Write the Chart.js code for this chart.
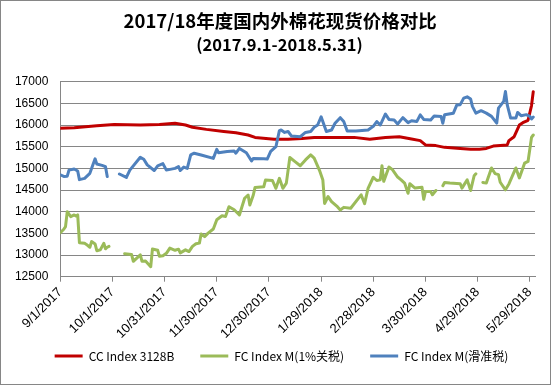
<!DOCTYPE html>
<html><head><meta charset="utf-8">
<script src="https://cdn.jsdelivr.net/npm/chart.js@4/dist/chart.umd.min.js"></script>
<style>html,body{margin:0;padding:0;background:#fff}canvas{display:block}</style>
</head><body>
<canvas id="c" width="555" height="386"></canvas>
<script>
const titleText = '2017/18年度国内外棉花现货价格对比';
const subtitleText = '(2017.9.1-2018.5.31)';
const seriesNames = ['CC Index 3128B', 'FC Index M(1%关税)', 'FC Index M(滑准税)'];

// x values are days since 9/1/2017
const xTickDays = [0, 30, 60, 90, 120, 150, 180, 210, 240, 270];
const xTickLabels = ['9/1/2017', '10/1/2017', '10/31/2017', '11/30/2017', '12/30/2017',
  '1/29/2018', '2/28/2018', '3/30/2018', '4/29/2018', '5/29/2018'];

const redDays = [0,8,21,31,46,57,66,72,76,84,94,101,108,112,123,131,139,146,161,169,178,187,195,202,207,210,216,221,230,236,241,245,249,253,257,258,261,264,266,269,271,272];
const redValues = [15925,15940,15985,16015,16000,16010,16040,16000,15950,15900,15850,15820,15770,15715,15670,15670,15690,15715,15715,15715,15670,15710,15730,15680,15640,15540,15525,15485,15460,15440,15440,15460,15515,15530,15540,15640,15730,16000,16055,16110,16450,16770];

const greenDays = [0,2,3,4,6,8,9,10,11,14,15,17,18,20,21,23,25,26,27,28,32,37,41,42,44,46,47,49,52,53,56,57,59,61,63,66,68,69,72,74,76,78,80,81,83,85,88,90,93,95,97,100,103,106,108,109,111,112,117,118,122,124,126,128,130,132,135,138,141,144,146,149,151,152,154,156,159,161,163,167,173,175,177,180,182,184,185,186,189,191,194,196,198,200,201,204,208,209,210,213,214,216,218,220,221,224,230,231,234,236,238,239,241,243,245,248,250,252,253,256,258,262,264,267,269,271,272];
const greenValues = [13515,13595,13655,14000,13885,13925,13900,13925,13285,13270,13245,13180,13310,13255,13100,13120,13270,13145,13180,13200,null,13030,13010,12855,12930,13005,12855,12860,12730,13140,13110,12970,12985,13040,13160,13110,13135,13050,13120,13080,13200,13260,13275,13485,13425,13505,13600,13815,13905,13890,14115,14045,13925,14310,14385,14155,14385,14560,14575,14730,14720,14540,14770,14540,14660,15250,15155,15060,15195,15310,15235,14960,14730,14190,14350,14235,14130,14040,14100,14080,14390,14185,14540,14795,14720,14735,15060,14700,15030,14970,14800,14735,14660,14425,14645,14545,14565,14285,14465,14465,14390,14490,null,14600,14675,14660,14645,14545,14735,14490,14830,14875,null,14675,14660,15010,14880,14855,14680,14505,14640,15010,14780,15120,15160,15715,15770];

const blueDays = [0,2,4,5,8,10,11,14,17,20,21,24,26,27,30,34,38,40,46,48,50,54,56,59,61,66,68,69,71,73,75,77,81,88,90,91,96,100,101,103,107,110,111,117,119,121,124,126,127,129,131,133,138,141,144,146,148,150,153,156,158,161,163,165,170,177,180,182,184,187,189,192,194,197,200,202,205,207,209,213,215,219,220,221,226,228,230,232,234,236,237,239,242,245,248,251,252,255,256,257,259,262,263,265,268,270,271,272];
const blueValues = [14850,14815,14820,14960,14985,14940,14740,14770,14885,15220,15100,15070,15040,14810,null,14870,14790,14960,15255,15210,15080,14950,15060,15110,14960,15000,15040,14950,15030,15000,15310,15350,15310,15230,15440,15360,15390,15400,15350,15460,15360,15170,15230,15220,15215,15390,15500,15870,15885,15830,15850,15745,15730,15830,15850,15950,16000,16190,15850,15885,16040,16170,16080,15860,15860,15885,15970,16080,16000,16255,16130,16115,16025,16170,16055,16100,16080,16235,16130,16115,16210,16195,16040,16235,16270,16460,16470,16620,16650,16600,16430,16275,16330,16275,16200,16045,16390,16545,16775,16470,16160,16160,16290,16215,16240,16200,16140,16185];

const colors = ['#C00000', '#9BBB59', '#4F81BD'];
const gridColor = '#868686';
const latin = '"Liberation Sans", Arial, sans-serif';
const cjk = '"Noto Sans CJK SC", "Liberation Sans", sans-serif';

function pts(days, vals) { return days.map((d, i) => ({ x: d, y: vals[i] })); }

function ds(label, days, vals, color, order) {
  return {
    label, data: pts(days, vals), borderColor: color, backgroundColor: color,
    borderWidth: 3, pointRadius: 0, pointHoverRadius: 0, pointStyle: 'line',
    pointBorderWidth: 3, pointBorderColor: color,
    tension: 0, borderJoinStyle: 'round', borderCapStyle: 'round', spanGaps: false, order
  };
}

const bgPlugin = {
  id: 'bg',
  beforeDraw(chart) {
    const c = chart.ctx;
    c.save();
    c.fillStyle = '#fff';
    c.fillRect(0, 0, chart.width, chart.height);
    c.strokeStyle = gridColor;
    c.lineWidth = 1;
    c.strokeRect(0.5, 0.5, 550, 384);
    c.restore();
  }
};

// nudge title / subtitle / legend boxes horizontally (and legend vertically)
const placePlugin = {
  id: 'place',
  afterLayout(chart) {
    for (const b of chart.boxes) {
      if (b.options && typeof b.options.text === 'string' && b.position === 'top') {
        const dx = b.options.text === titleText ? 12.7 : 12;
        b.left += dx; b.right += dx;
      }
    }
    const lg = chart.legend;
    if (lg) { lg.left += 14; lg.right += 14; lg.top -= 22; lg.bottom -= 22; }
  }
};

new Chart(document.getElementById('c'), {
  type: 'line',
  data: {
    datasets: [
      ds(seriesNames[0], redDays, redValues, colors[0], 3),
      ds(seriesNames[1], greenDays, greenValues, colors[1], 2),
      ds(seriesNames[2], blueDays, blueValues, colors[2], 1)
    ]
  },
  options: {
    responsive: false, animation: false, devicePixelRatio: 1,
    layout: { padding: { left: 0, right: 20, top: 0, bottom: 0 } },
    plugins: {
      title: {
        display: true, text: titleText, color: '#000',
        font: { family: cjk, size: 18.5, weight: 'bold', lineHeight: 1.2 },
        padding: { top: 9.6, bottom: 0 }
      },
      subtitle: {
        display: true, text: subtitleText, color: '#000',
        font: { family: cjk, size: 16.5, weight: 'bold', lineHeight: 1.2 },
        padding: { top: 3.3, bottom: 26.8 }
      },
      legend: {
        position: 'bottom', maxHeight: 40,
        labels: {
          usePointStyle: true, pointStyleWidth: 28, padding: 26, color: '#000',
          font: { family: cjk, size: 12 },
          sort: (a, b) => a.datasetIndex - b.datasetIndex
        }
      },
      tooltip: { enabled: false }
    },
    scales: {
      x: {
        type: 'linear', min: 0, max: 273,
        afterFit: s => { s.height = 69.3; },
        afterBuildTicks: s => { s.ticks = xTickDays.map(v => ({ value: v })); },
        grid: { drawOnChartArea: false, drawTicks: true, tickLength: 5, color: gridColor },
        border: { color: gridColor },
        ticks: {
          autoSkip: false, maxRotation: 45, minRotation: 45, color: '#000',
          font: { family: latin, size: 13 },
          callback: (v, i) => xTickLabels[i]
        }
      },
      y: {
        min: 12500, max: 17000,
        afterFit: s => { s.width = 60.3; },
        grid: { drawTicks: false, color: gridColor },
        border: { color: gridColor },
        ticks: { stepSize: 500, padding: 12, color: '#000', font: { family: latin, size: 12 },
          callback: v => String(v) }
      }
    }
  },
  plugins: [bgPlugin, placePlugin]
});
</script>
</body></html>
